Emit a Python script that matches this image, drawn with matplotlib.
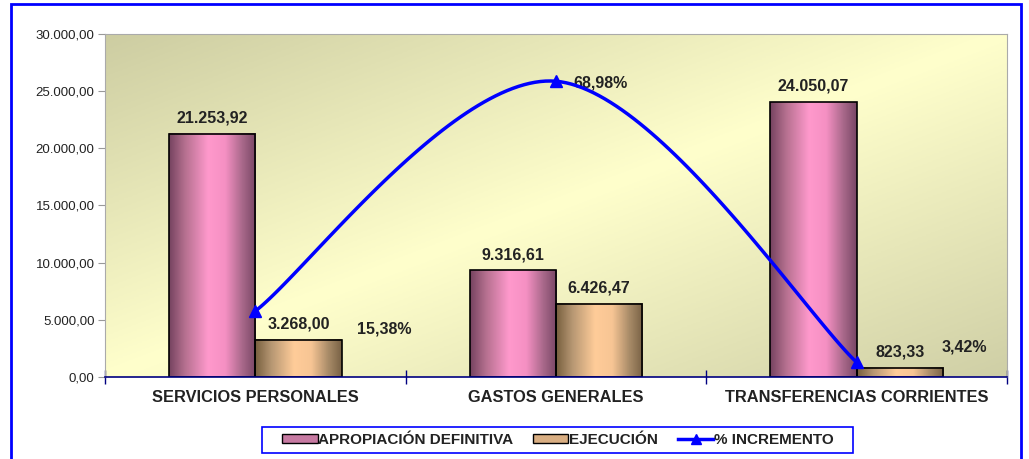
import numpy as np
import matplotlib
matplotlib.use("Agg")
import matplotlib.pyplot as plt
from matplotlib.colors import LinearSegmentedColormap
from matplotlib.patches import Rectangle, Patch
from matplotlib.lines import Line2D

plt.rcParams['font.family'] = ['Liberation Sans', 'DejaVu Sans']

# datos
categorias = ['SERVICIOS PERSONALES', 'GASTOS GENERALES', 'TRANSFERENCIAS CORRIENTES']
apropiacion = [21253.92, 9316.61, 24050.07]
ejecucion = [3268.00, 6426.47, 823.33]
incremento = [15.38, 68.98, 3.42]
etiq_pct = ['15,38%', '68,98%', '3,42%']
desplaz_pct = [(129, -18), (44, -2), (108, 15)]  # px, posicion manual de etiquetas

def fmt(v):
    return f"{v:,.2f}".replace(',', 'X').replace('.', ',').replace('X', '.')

W, H = 1029, 459
fig = plt.figure(figsize=(W / 100, H / 100), dpi=100)
fig.patch.set_facecolor('white')
ax = fig.add_axes([105 / W, (H - 377) / H, 902 / W, 343 / H])

# fondo degradado diagonal
n = 200
u, w = np.meshgrid(np.linspace(0, 1, n), np.linspace(1, 0, n))
s = (u + (1 - w)) / 2
fondo = LinearSegmentedColormap.from_list('fondo', [(0, '#cdcda2'), (0.5, '#ffffcc'), (1, '#cfcfa6')])
ax.imshow(s, cmap=fondo, extent=[0, 1, 0, 1], transform=ax.transAxes,
          aspect='auto', zorder=0, origin='upper')

# barras con degradado tipo cilindro
cmap_rosa = LinearSegmentedColormap.from_list('rosa', [(0, '#774461'), (0.18, '#b5708f'),
                                                       (0.45, '#ff99cc'), (0.65, '#f590c3'),
                                                       (0.85, '#a8688a'), (1, '#7a4766')])
cmap_tan = LinearSegmentedColormap.from_list('tan', [(0, '#78603f'), (0.18, '#b59672'),
                                                     (0.45, '#ffcc99'), (0.65, '#f7c594'),
                                                     (0.85, '#a88b68'), (1, '#7a6346')])
x = np.arange(len(categorias))
bw = 0.287
b1 = ax.bar(x - bw / 2, apropiacion, bw, facecolor='none', edgecolor='black', lw=1.2, zorder=3)
b2 = ax.bar(x + bw / 2, ejecucion, bw, facecolor='none', edgecolor='black', lw=1.2, zorder=3)
grad = np.linspace(0, 1, 100).reshape(1, -1)
for barras, cm in [(b1, cmap_rosa), (b2, cmap_tan)]:
    for p in barras:
        ax.imshow(grad, cmap=cm, aspect='auto', zorder=2,
                  extent=[p.get_x(), p.get_x() + p.get_width(), 0, p.get_height()])
        ax.annotate(fmt(p.get_height()), (p.get_x() + p.get_width() / 2, p.get_height()),
                    xytext=(0, 6), textcoords='offset points', ha='center', va='bottom',
                    fontsize=11.5, fontweight='bold', color='#222222', zorder=5)

ax.set_xlim(-0.5, 2.5)
ax.set_ylim(0, 30000)
ax.set_yticks(np.arange(0, 30001, 5000))
ax.set_yticklabels([fmt(v) for v in np.arange(0, 30001, 5000)], fontsize=9.5, color='#222222')
ax.set_xticks(x)
ax.set_xticklabels(categorias, fontsize=11.8, fontweight='bold', color='#222222')
ax.set_xticks([-0.5, 0.5, 1.5, 2.5], minor=True)
ax.tick_params(axis='x', which='major', length=0, pad=9)
ax.tick_params(axis='x', which='minor', length=10, direction='inout', color='#000080', width=1)
ax.tick_params(axis='y', length=5, color='#999999', pad=2.5)
for side in ['top', 'right', 'left']:
    ax.spines[side].set_color('#aaaaaa')
ax.spines['bottom'].set_color('#000080')
ax.spines['bottom'].set_linewidth(1.2)
ax.spines['bottom'].set_zorder(6)

# linea suavizada (% incremento) en eje secundario
ax2 = ax.twinx()
ax2.set_ylim(0, 80)
ax2.axis('off')
P = np.column_stack([x, incremento]).astype(float)
curva = []
for i in range(len(P) - 1):
    p0 = P[max(i - 1, 0)]
    p1, p2 = P[i], P[i + 1]
    p3 = P[min(i + 2, len(P) - 1)]
    c1 = p1 + (p2 - p0) / 6
    c2 = p2 - (p3 - p1) / 6
    t = np.linspace(0, 1, 60)[:, None]
    curva.append((1 - t) ** 3 * p1 + 3 * (1 - t) ** 2 * t * c1 + 3 * (1 - t) * t ** 2 * c2 + t ** 3 * p2)
curva = np.vstack(curva)
ax2.plot(curva[:, 0], curva[:, 1], color='#0000ff', lw=2.5, zorder=4)
ax2.plot(x, incremento, ls='none', marker='^', ms=9, color='#0000ff', zorder=5)
for xi, yi, txt, (dx, dy) in zip(x, incremento, etiq_pct, desplaz_pct):
    ax2.annotate(txt, (xi, yi), xytext=(dx * 0.72, dy * 0.72), textcoords='offset points',
                 ha='center', va='center', fontsize=11.5, fontweight='bold', color='#222222')

# leyenda
handles = [Patch(facecolor='#c77aa2', edgecolor='black', lw=1),
           Patch(facecolor='#d9ae82', edgecolor='black', lw=1),
           Line2D([0], [0], color='#0000ff', lw=2.5, marker='^', ms=7)]
leg = fig.legend(handles, ['APROPIACIÓN DEFINITIVA', 'EJECUCIÓN', '% INCREMENTO'],
                 loc='center', bbox_to_anchor=(558 / W, (H - 440) / H), ncol=3,
                 frameon=False, prop={'weight': 'bold', 'size': 11}, handlelength=2.3,
                 handletextpad=0.05, columnspacing=1.3, handleheight=0.5, borderaxespad=0)
for t in leg.get_texts():
    t.set_color('#222222')
fig.patches.append(Rectangle((262 / W, (H - 453) / H), 591 / W, 26 / H, transform=fig.transFigure,
                             fill=False, edgecolor='#0000ff', lw=1.2, zorder=9))

# borde del grafico
fig.patches.append(Rectangle((10.5 / W, -0.1), 1010 / W, (H - 4) / H + 0.1, transform=fig.transFigure,
                             fill=False, edgecolor='#0000ff', lw=2, zorder=10))

fig.savefig('out.png', dpi=100)
